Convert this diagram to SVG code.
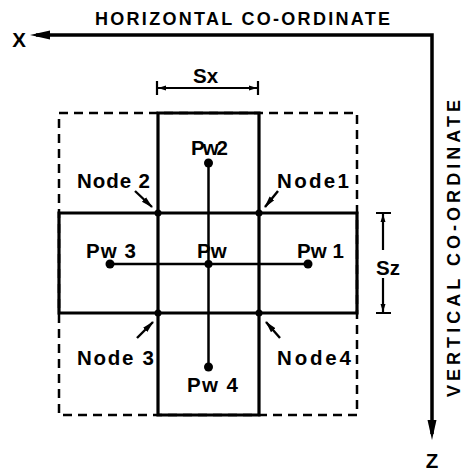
<svg xmlns="http://www.w3.org/2000/svg" width="464" height="472" viewBox="0 0 464 472">
<style>
.solid{fill:none;stroke:#000;stroke-width:3.2;stroke-linejoin:miter}
.dash{fill:none;stroke:#000;stroke-width:2.5;stroke-dasharray:9 6}
.thin{fill:none;stroke:#000;stroke-width:2.5}
.axis{fill:none;stroke:#000;stroke-width:3.5}
.ptr{fill:none;stroke:#000;stroke-width:2.4}
.dim{fill:none;stroke:#000;stroke-width:2.2}
.dot{fill:#000}
.lbl{font-family:"Liberation Sans",Arial,sans-serif;font-size:20.5px;font-weight:bold;fill:#000}
.cap{font-family:"Liberation Sans",Arial,sans-serif;font-size:18px;font-weight:bold;fill:#000}
</style>
<defs>
<marker id="axisHead" markerUnits="userSpaceOnUse" markerWidth="20" markerHeight="12" viewBox="0 0 20 12" refX="14" refY="6" orient="auto-start-reverse"><path d="M0,1.5 L20,6 L0,10.5 z" fill="#000"/></marker>
<marker id="ptrHead" markerUnits="userSpaceOnUse" markerWidth="12" markerHeight="8" viewBox="0 0 12 8" refX="11" refY="4" orient="auto"><path d="M0,1 L12,4 L0,7 z" fill="#000"/></marker>
<marker id="dimHead" markerUnits="userSpaceOnUse" markerWidth="8" markerHeight="6" viewBox="0 0 8 6" refX="8" refY="3" orient="auto-start-reverse"><path d="M0,0.5 L8,3 L0,5.5 z" fill="#000"/></marker>
</defs>

<g id="title">
<text class="cap" x="95" y="25" textLength="295" lengthAdjust="spacing">HORIZONTAL CO-ORDINATE</text>
<text class="cap" transform="translate(460,248.5) rotate(-90)" x="-148.5" y="0" textLength="297" lengthAdjust="spacing">VERTICAL CO-ORDINATE</text>
<text class="lbl" x="19" y="47" text-anchor="middle">X</text>
<text class="lbl" x="432" y="468" text-anchor="middle">Z</text>
</g>

<g id="grid">
<rect class="dash" x="59" y="113" width="298" height="302"/>
<path class="solid" d="M158,113 H259 V213 H357 V313 H259 V415 H158 V313 H59 V213 H158 Z"/>
<path class="solid" d="M158,213 V313 M259,213 V313 M158,213 H259 M158,313 H259"/>
</g>

<g id="connectors">
<path class="axis" d="M36,35 H432 V434" marker-start="url(#axisHead)" marker-end="url(#axisHead)"/>
<path class="thin" d="M110,264 H308"/>
<path class="thin" d="M208.5,163 V367"/>
<path class="ptr" d="M135,191 L152,207" marker-end="url(#ptrHead)"/>
<path class="ptr" d="M278,191 L265,207" marker-end="url(#ptrHead)"/>
<path class="ptr" d="M137,338 L153,322" marker-end="url(#ptrHead)"/>
<path class="ptr" d="M280,338 L266,322" marker-end="url(#ptrHead)"/>
</g>

<g id="dim-sx">
<path class="dim" d="M157,81 V95 M258,81 V95"/>
<path class="dim" d="M158,88 H257" marker-start="url(#dimHead)" marker-end="url(#dimHead)"/>
<text class="lbl" x="193" y="83">Sx</text>
</g>

<g id="dim-sz">
<path class="dim" d="M376,213 H391 M376,313 H391"/>
<path class="dim" d="M383,214 V250" marker-start="url(#dimHead)"/>
<path class="dim" d="M383,278 V312" marker-end="url(#dimHead)"/>
<text class="lbl" x="376" y="275">Sz</text>
</g>

<g id="pw">
<circle class="dot" cx="208.5" cy="264" r="4"/>
<text class="lbl" x="197" y="258">Pw</text>
</g>
<g id="pw1">
<circle class="dot" cx="308" cy="264" r="4.5"/>
<text class="lbl" x="297" y="258" textLength="47" lengthAdjust="spacing">Pw 1</text>
</g>
<g id="pw2">
<circle class="dot" cx="208.5" cy="163" r="4.5"/>
<text class="lbl" x="191" y="155" textLength="37" lengthAdjust="spacing">Pw2</text>
</g>
<g id="pw3">
<circle class="dot" cx="110" cy="264" r="4.5"/>
<text class="lbl" x="86" y="258" textLength="50" lengthAdjust="spacing">Pw 3</text>
</g>
<g id="pw4">
<circle class="dot" cx="208.5" cy="367" r="4.5"/>
<text class="lbl" x="187" y="392" textLength="51" lengthAdjust="spacing">Pw 4</text>
</g>

<g id="node1">
<circle class="dot" cx="259" cy="213" r="3.5"/>
<text class="lbl" x="277" y="188" textLength="72" lengthAdjust="spacing">Node1</text>
</g>
<g id="node2">
<circle class="dot" cx="158" cy="213" r="3.5"/>
<text class="lbl" x="77" y="188" textLength="73" lengthAdjust="spacing">Node 2</text>
</g>
<g id="node3">
<circle class="dot" cx="158" cy="313" r="3.5"/>
<text class="lbl" x="77" y="365" textLength="77" lengthAdjust="spacing">Node 3</text>
</g>
<g id="node4">
<circle class="dot" cx="259" cy="313" r="3.5"/>
<text class="lbl" x="277" y="365" textLength="74" lengthAdjust="spacing">Node4</text>
</g>
</svg>
